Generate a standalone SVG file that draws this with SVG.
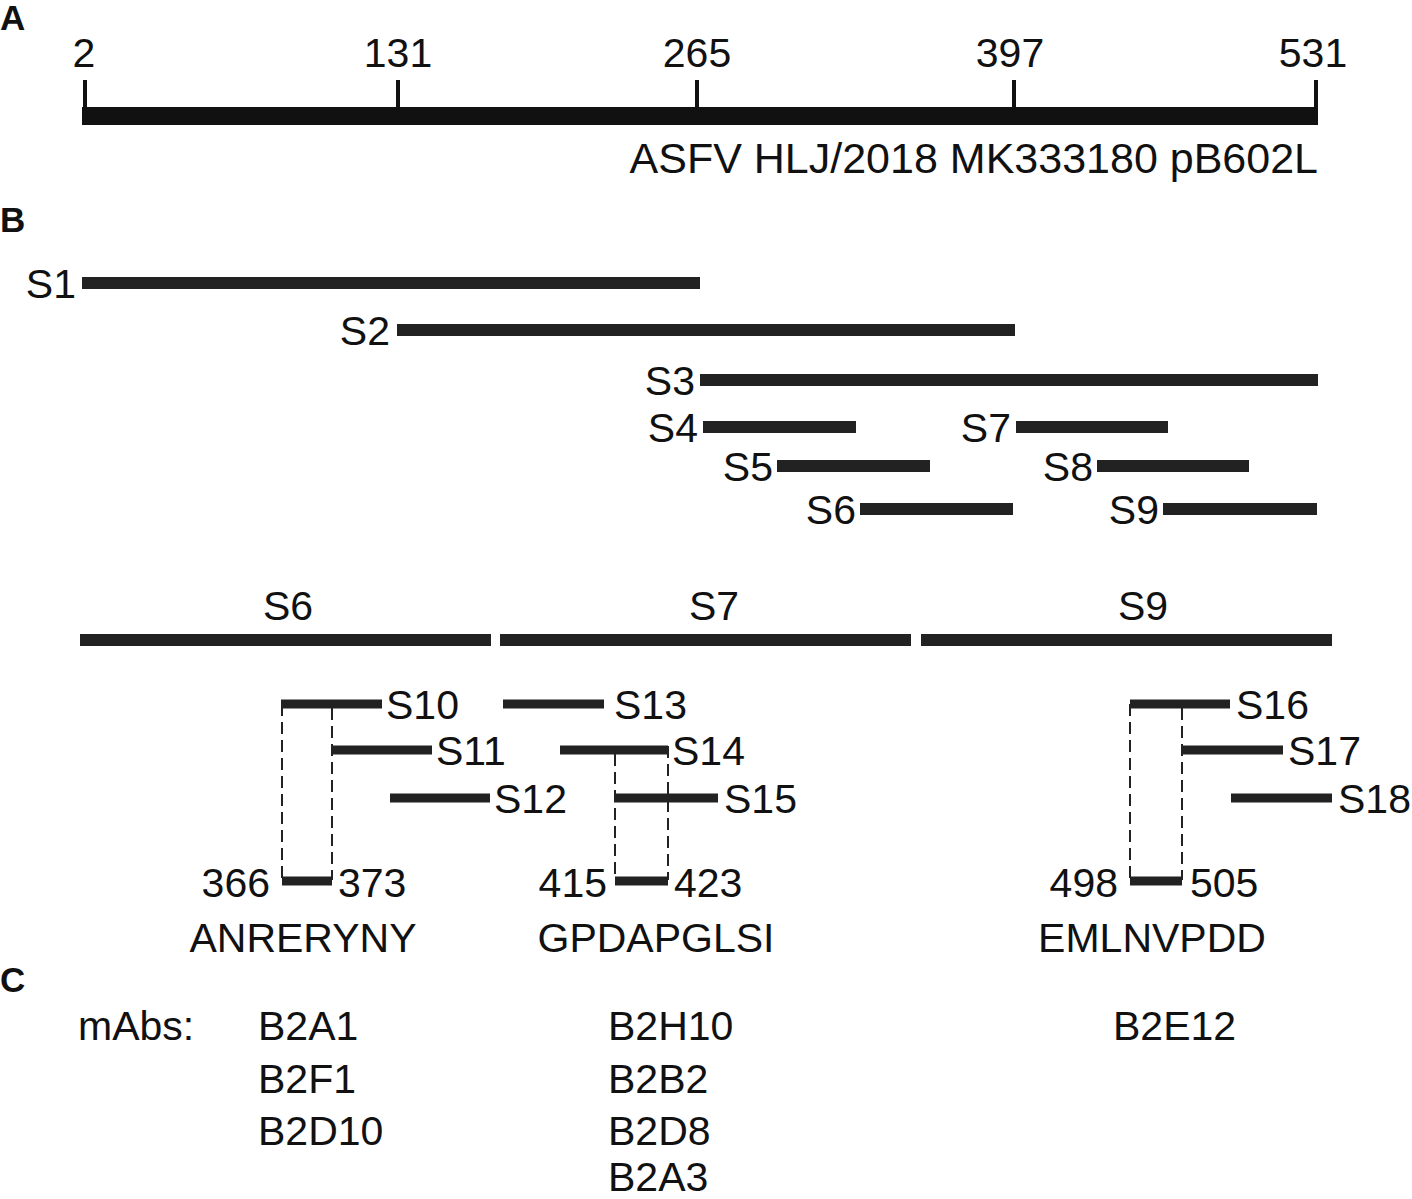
<svg xmlns="http://www.w3.org/2000/svg" width="1412" height="1199" viewBox="0 0 1412 1199">
<style>
text{font-family:"Liberation Sans",Arial,sans-serif;font-size:41px;fill:#111}
.h{font-weight:bold;font-size:35px}
.e{text-anchor:end}
.m{text-anchor:middle}
.bar{stroke:#222;stroke-width:12}
.sb{stroke:#222;stroke-width:9}
.tk{stroke:#111;stroke-width:4}
.d{stroke:#222;stroke-width:2;stroke-dasharray:12 6;fill:none}
</style>
<rect width="1412" height="1199" fill="#fff"/>
<g id="panelA">
<text class="h" x="0" y="30">A</text>
<rect x="82" y="107" width="1236" height="18" fill="#111"/>
<line class="tk" x1="85" y1="80" x2="85" y2="108"/>
<line class="tk" x1="398" y1="80" x2="398" y2="108"/>
<line class="tk" x1="697" y1="80" x2="697" y2="108"/>
<line class="tk" x1="1014" y1="80" x2="1014" y2="108"/>
<line class="tk" x1="1316" y1="80" x2="1316" y2="108"/>
<text class="m" x="84" y="67">2</text>
<text class="m" x="398" y="67">131</text>
<text class="m" x="697" y="67">265</text>
<text class="m" x="1010" y="67">397</text>
<text class="m" x="1313" y="67">531</text>
<text class="e" x="1318" y="173" style="font-size:43px">ASFV HLJ/2018 MK333180 pB602L</text>
</g>
<text class="h" x="0" y="232">B</text>
<g id="S1"><line class="bar" x1="82" y1="283" x2="700" y2="283"/><text class="e" x="76" y="298">S1</text></g>
<g id="S2"><line class="bar" x1="397" y1="330" x2="1015" y2="330"/><text class="e" x="390" y="345">S2</text></g>
<g id="S3"><line class="bar" x1="700" y1="380" x2="1318" y2="380"/><text class="e" x="695" y="395">S3</text></g>
<g id="S4"><line class="bar" x1="703" y1="427" x2="856" y2="427"/><text class="e" x="698" y="442">S4</text></g>
<g id="S5"><line class="bar" x1="777" y1="466" x2="930" y2="466"/><text class="e" x="773" y="481">S5</text></g>
<g id="S6"><line class="bar" x1="860" y1="509" x2="1013" y2="509"/><text class="e" x="856" y="524">S6</text></g>
<g id="S7"><line class="bar" x1="1016" y1="427" x2="1168" y2="427"/><text class="e" x="1011" y="442">S7</text></g>
<g id="S8"><line class="bar" x1="1097" y1="466" x2="1249" y2="466"/><text class="e" x="1093" y="481">S8</text></g>
<g id="S9"><line class="bar" x1="1163" y1="509" x2="1317" y2="509"/><text class="e" x="1159" y="524">S9</text></g>
<g id="S6long"><line class="bar" x1="80" y1="640" x2="491" y2="640"/><text class="m" x="288" y="620">S6</text></g>
<g id="S7long"><line class="bar" x1="500" y1="640" x2="911" y2="640"/><text class="m" x="714" y="620">S7</text></g>
<g id="S9long"><line class="bar" x1="921" y1="640" x2="1332" y2="640"/><text class="m" x="1143" y="620">S9</text></g>
<g id="S10"><line class="sb" x1="281" y1="704" x2="382" y2="704"/><text x="386" y="719">S10</text></g>
<g id="S11"><line class="sb" x1="332" y1="750" x2="432" y2="750"/><text x="436" y="765">S11</text></g>
<g id="S12"><line class="sb" x1="390" y1="798" x2="490" y2="798"/><text x="494" y="813">S12</text></g>
<g id="S13"><line class="sb" x1="503" y1="704" x2="604" y2="704"/><text x="614" y="719">S13</text></g>
<g id="S14"><line class="sb" x1="560" y1="750" x2="668" y2="750"/><text x="672" y="765">S14</text></g>
<g id="S15"><line class="sb" x1="614" y1="798" x2="718" y2="798"/><text x="724" y="813">S15</text></g>
<g id="S16"><line class="sb" x1="1130" y1="704" x2="1230" y2="704"/><text x="1236" y="719">S16</text></g>
<g id="S17"><line class="sb" x1="1182" y1="750" x2="1283" y2="750"/><text x="1288" y="765">S17</text></g>
<g id="S18"><line class="sb" x1="1231" y1="798" x2="1332" y2="798"/><text x="1338" y="813">S18</text></g>
<g id="connectors">
<line class="d" x1="282" y1="704" x2="282" y2="880"/>
<line class="d" x1="332" y1="708" x2="332" y2="880"/>
<line class="d" x1="615" y1="754" x2="615" y2="880"/>
<line class="d" x1="668" y1="746" x2="668" y2="880"/>
<line class="d" x1="1130" y1="704" x2="1130" y2="880"/>
<line class="d" x1="1182" y1="708" x2="1182" y2="880"/>
</g>
<g id="epi1"><line class="sb" x1="282" y1="881" x2="332" y2="881"/><text class="e" x="270" y="897">366</text><text x="338" y="897">373</text><text class="m" x="303" y="952">ANRERYNY</text></g>
<g id="epi2"><line class="sb" x1="615" y1="881" x2="668" y2="881"/><text class="e" x="607" y="897">415</text><text x="674" y="897">423</text><text class="m" x="656" y="952">GPDAPGLSI</text></g>
<g id="epi3"><line class="sb" x1="1130" y1="881" x2="1182" y2="881"/><text class="e" x="1118" y="897">498</text><text x="1190" y="897">505</text><text class="m" x="1152" y="952">EMLNVPDD</text></g>
<g id="panelC">
<text class="h" x="0" y="992">C</text>
<text x="78" y="1040">mAbs:</text>
<text x="258" y="1040">B2A1</text>
<text x="258" y="1093">B2F1</text>
<text x="258" y="1145">B2D10</text>
<text x="608" y="1040">B2H10</text>
<text x="608" y="1093">B2B2</text>
<text x="608" y="1145">B2D8</text>
<text x="608" y="1191">B2A3</text>
<text x="1113" y="1040">B2E12</text>
</g>
</svg>
